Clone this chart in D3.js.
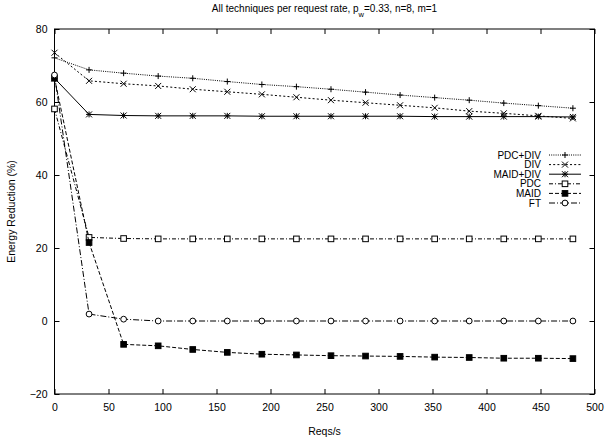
<!DOCTYPE html>
<html>
<head>
<meta charset="utf-8">
<script src="https://cdn.jsdelivr.net/npm/d3@7"></script>
<style>
  body { margin: 0; background: #fff; }
  text { font-family: "Liberation Sans", Arial, sans-serif; fill: #000; }
</style>
</head>
<body>
<svg></svg>
<script>
const width = 605;
const height = 439;

// Data
const reqs = [0, 32, 64, 96, 128, 160, 192, 224, 256, 288, 320, 352, 384, 416, 448, 480];
const pdcDiv  = [72.1, 68.8, 67.9, 67.1, 66.5, 65.6, 64.8, 64.2, 63.5, 62.7, 61.9, 61.2, 60.5, 59.7, 59.0, 58.3];
const div     = [73.5, 65.8, 65.0, 64.4, 63.5, 62.8, 62.1, 61.3, 60.5, 59.8, 59.1, 58.4, 57.5, 56.9, 56.2, 55.5];
const maidDiv = [66.5, 56.6, 56.3, 56.2, 56.2, 56.2, 56.1, 56.1, 56.1, 56.1, 56.1, 56.0, 56.0, 56.0, 56.0, 55.9];
const pdc     = [58.1, 22.9, 22.6, 22.5, 22.5, 22.5, 22.5, 22.5, 22.5, 22.5, 22.5, 22.5, 22.5, 22.5, 22.5, 22.5];
const maid    = [66.5, 21.5, -6.4, -6.8, -7.8, -8.6, -9.1, -9.3, -9.5, -9.6, -9.7, -9.9, -10.0, -10.2, -10.2, -10.3];
const ft      = [67.4, 1.9, 0.5, 0.0, 0.0, 0.0, 0.0, 0.0, 0.0, 0.0, 0.0, 0.0, 0.0, 0.0, 0.0, 0.0];

const seriesNames = ["PDC+DIV", "DIV", "MAID+DIV", "PDC", "MAID", "FT"];
const seriesValues = [pdcDiv, div, maidDiv, pdc, maid, ft];
const xTicks = [0, 50, 100, 150, 200, 250, 300, 350, 400, 450, 500];
const yTicks = [-20, 0, 20, 40, 60, 80];

// gnuplot-ish styles
const dashes  = ["1,1.2", "2,2.2", null, "4,2,1,2", "4,2", "6,2,1,2"];
const symbols = ["plus", "cross", "star", "box", "boxfill", "circle"];

const svg = d3.select("svg")
    .attr("width", width)
    .attr("height", height);

const plotLeft = 54.5, plotRight = 594.5, plotTop = 29, plotBottom = 394;

const x = d3.scaleLinear().domain([0, 500]).range([plotLeft, plotRight]);
const y = d3.scaleLinear().domain([-20, 80]).range([plotBottom, plotTop]);

// Axes with inward ticks on all four sides
svg.append("g")
    .attr("transform", `translate(0,${plotBottom})`)
    .call(d3.axisBottom(x).tickValues(xTicks).tickSize(-5).tickPadding(10))
    .call(g => g.select(".domain").remove());
svg.append("g")
    .attr("transform", `translate(0,${plotTop})`)
    .call(d3.axisTop(x).tickValues(xTicks).tickSize(-5).tickFormat(""))
    .call(g => g.select(".domain").remove());
svg.append("g")
    .attr("transform", `translate(${plotLeft},0)`)
    .call(d3.axisLeft(y).tickValues(yTicks).tickSize(-5).tickPadding(7))
    .call(g => g.select(".domain").remove());
svg.append("g")
    .attr("transform", `translate(${plotRight},0)`)
    .call(d3.axisRight(y).tickValues(yTicks).tickSize(-5).tickFormat(""))
    .call(g => g.select(".domain").remove());

svg.selectAll(".tick text")
    .attr("font-size", 10.5)
    .attr("font-family", "Liberation Sans, Arial, sans-serif");
svg.selectAll(".tick line").attr("stroke", "#000");

svg.append("rect")
    .attr("x", plotLeft).attr("y", plotTop)
    .attr("width", plotRight - plotLeft).attr("height", plotBottom - plotTop)
    .attr("fill", "none").attr("stroke", "#000").attr("stroke-width", 1);

// Title with subscript
const title = svg.append("text")
    .attr("x", (plotLeft + plotRight) / 2)
    .attr("y", 12)
    .attr("text-anchor", "middle")
    .attr("font-size", 10);
title.append("tspan").text("All techniques per request rate, p");
title.append("tspan").attr("baseline-shift", "sub").attr("font-size", 7.5).text("w");
title.append("tspan").text("=0.33, n=8, m=1");

svg.append("text")
    .attr("x", (plotLeft + plotRight) / 2)
    .attr("y", 435)
    .attr("text-anchor", "middle")
    .attr("font-size", 10.5)
    .text("Reqs/s");

svg.append("text")
    .attr("transform", `translate(15,${(plotTop + plotBottom) / 2}) rotate(-90)`)
    .attr("text-anchor", "middle")
    .attr("font-size", 10.5)
    .text("Energy Reduction (%)");

function drawSymbol(g, type, cx, cy) {
    const s = 3;
    if (type === "plus" || type === "star") {
        g.append("path").attr("d", `M${cx - s},${cy}H${cx + s}M${cx},${cy - s}V${cy + s}`)
            .attr("stroke", "#000").attr("fill", "none");
    }
    if (type === "cross" || type === "star") {
        g.append("path").attr("d", `M${cx - s},${cy - s}L${cx + s},${cy + s}M${cx - s},${cy + s}L${cx + s},${cy - s}`)
            .attr("stroke", "#000").attr("fill", "none");
    }
    if (type === "box" || type === "boxfill") {
        g.append("rect").attr("x", cx - 2.8).attr("y", cy - 2.8).attr("width", 5.6).attr("height", 5.6)
            .attr("stroke", "#000").attr("fill", type === "boxfill" ? "#000" : "#fff");
    }
    if (type === "circle") {
        g.append("circle").attr("cx", cx).attr("cy", cy).attr("r", 2.9)
            .attr("stroke", "#000").attr("fill", "#fff");
    }
}

const line = d3.line()
    .x((d, i) => x(reqs[i]))
    .y(d => y(d));

seriesValues.forEach((vals, k) => {
    const g = svg.append("g");
    g.append("path")
        .datum(vals)
        .attr("d", line)
        .attr("fill", "none")
        .attr("stroke", "#000")
        .attr("stroke-width", 1)
        .attr("stroke-dasharray", dashes[k]);
    vals.forEach((v, i) => drawSymbol(g, symbols[k], x(reqs[i]), y(v)));
});

// Legend
const legendX = 541, legendY0 = 155, legendStep = 9.6;
seriesNames.forEach((name, k) => {
    const ly = legendY0 + k * legendStep;
    const g = svg.append("g");
    g.append("text")
        .attr("x", legendX)
        .attr("y", ly + 3.6)
        .attr("text-anchor", "end")
        .attr("font-size", 10)
        .text(name);
    g.append("line")
        .attr("x1", 549).attr("x2", 581)
        .attr("y1", ly).attr("y2", ly)
        .attr("stroke", "#000")
        .attr("stroke-dasharray", dashes[k]);
    drawSymbol(g, symbols[k], 565, ly);
});
</script>
</body>
</html>
